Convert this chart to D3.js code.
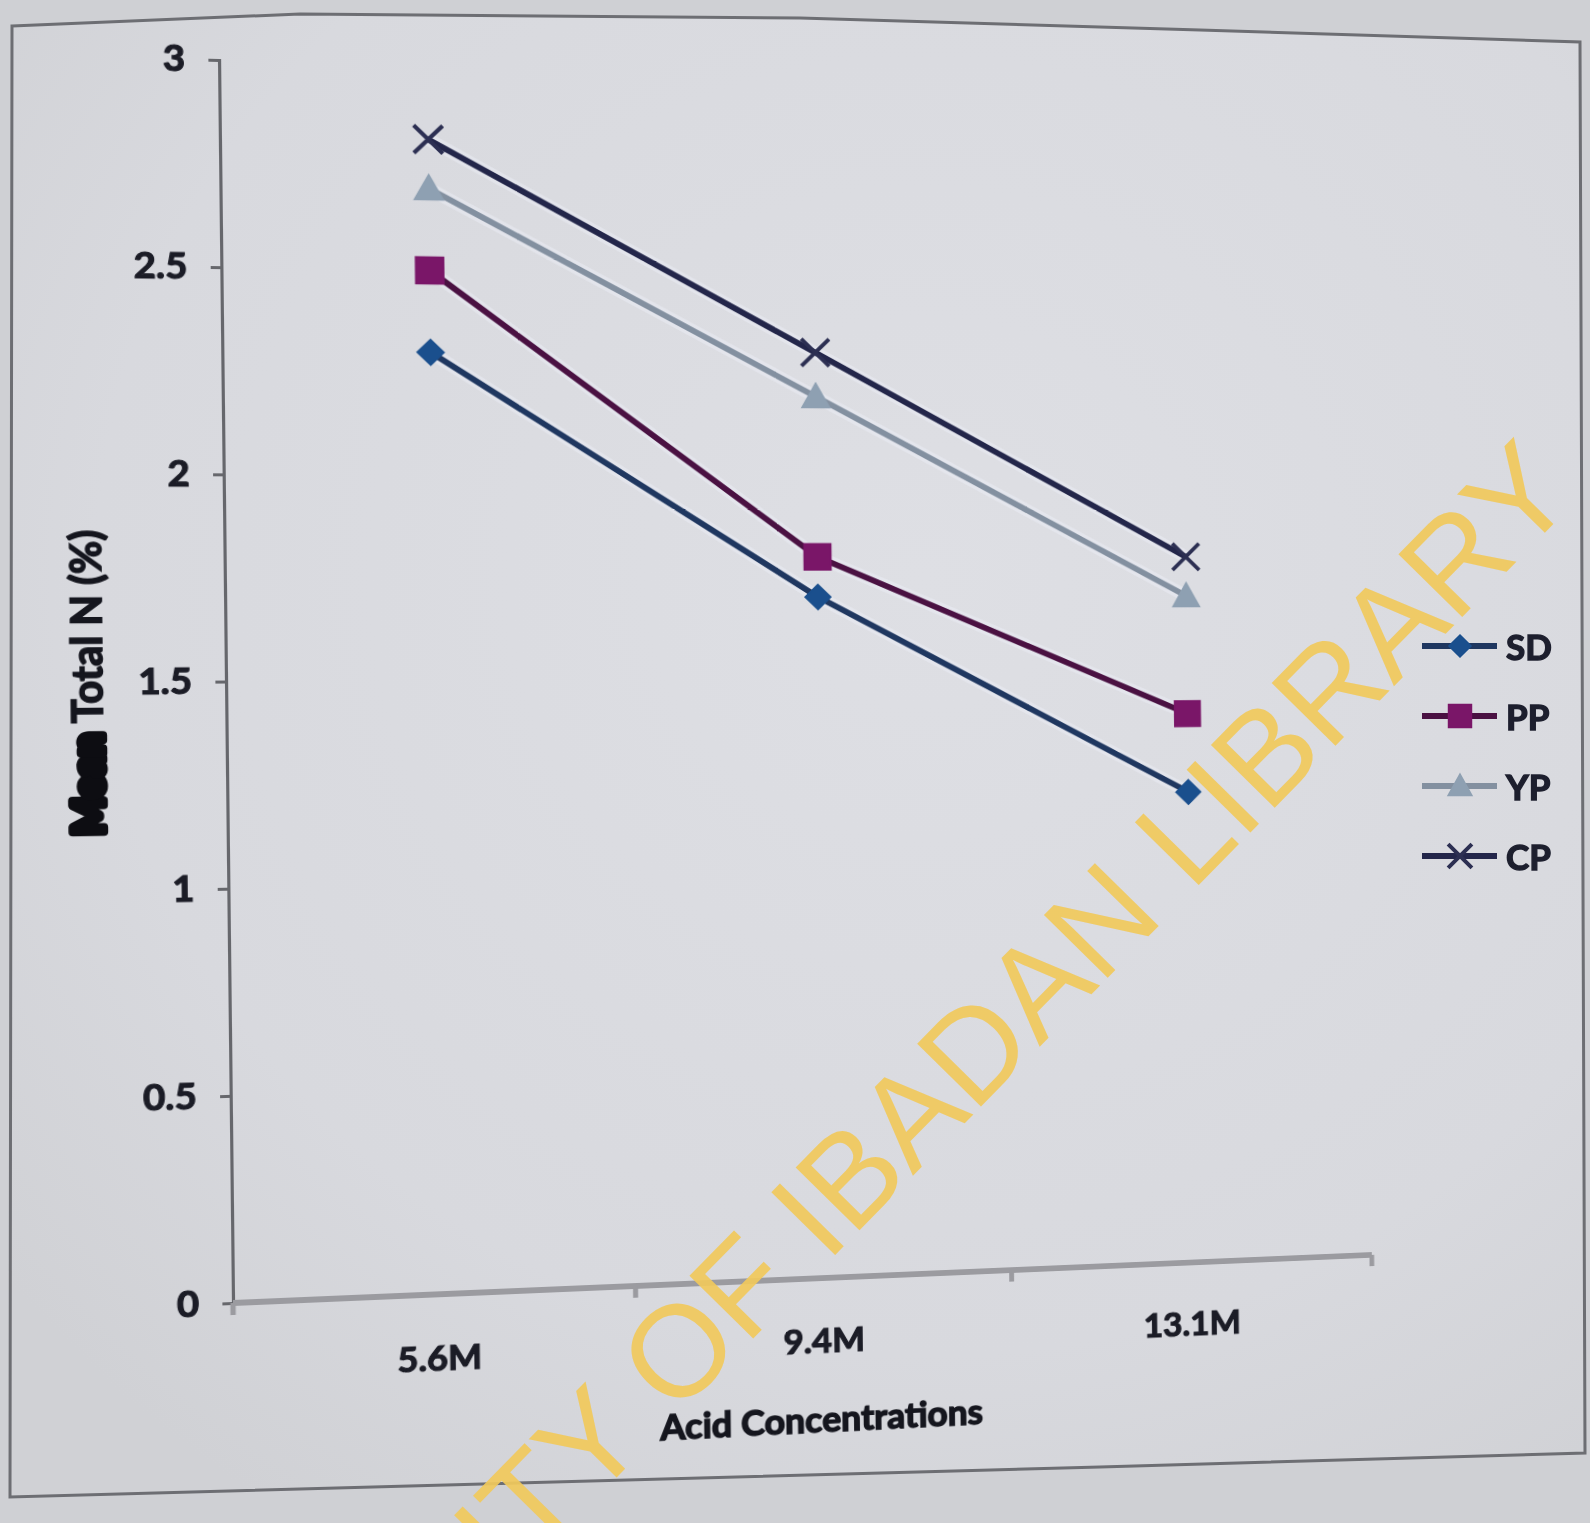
<!DOCTYPE html>
<html>
<head>
<meta charset="utf-8">
<script src="https://cdn.jsdelivr.net/npm/d3@7"></script>
<style>
  html, body { margin: 0; padding: 0; }
  body { width: 1590px; height: 1523px; overflow: hidden; position: relative; background: #d3d4d9; }
  svg { position: absolute; left: 0; top: 0; }
  #chart { transform-origin: 0 0; }
</style>
</head>
<body>
<svg id="paper" width="1590" height="1523"></svg>
<svg id="chart" width="1590" height="1523"></svg>
<svg id="overlay" width="1590" height="1523"></svg>
<script>
// ---- data ----
const categories = ["5.6M", "9.4M", "13.1M"];
const seriesNames = ["SD", "PP", "YP", "CP"];
const sdValues = [2.3, 1.7, 1.2];
const ppValues = [2.5, 1.8, 1.4];
const ypValues = [2.7, 2.2, 1.7];
const cpValues = [2.82, 2.31, 1.8];
const yTickValues = [0, 0.5, 1, 1.5, 2, 2.5, 3];
const yTickLabels = ["0", "0.5", "1", "1.5", "2", "2.5", "3"];
const xTitle = "Acid Concentrations";
const yTitle = "Mean Total N (%)";
const watermark = "UNIVERSITY OF IBADAN LIBRARY";

const seriesValues = { SD: sdValues, PP: ppValues, YP: ypValues, CP: cpValues };

// ---- styles ----
const style = {
  SD: { line: "#1f3760", marker: "#1a4f8d", shape: "diamond" },
  PP: { line: "#4a1142", marker: "#7a1668", shape: "square" },
  YP: { line: "#8390a0", marker: "#8ea0b2", shape: "triangle" },
  CP: { line: "#23264a", marker: "#2c2f52", shape: "star" }
};
const FONT = "Lato, 'Open Sans', 'DejaVu Sans', sans-serif";
const INK = "#1b1c26";

// ---- paper background and frame ----
const paper = d3.select("#paper");
const defs = paper.append("defs");
const rg = defs.append("radialGradient").attr("id", "sheet")
  .attr("cx", "58%").attr("cy", "38%").attr("r", "75%");
rg.append("stop").attr("offset", "0%").attr("stop-color", "#dedfe4");
rg.append("stop").attr("offset", "70%").attr("stop-color", "#d8d9de");
rg.append("stop").attr("offset", "100%").attr("stop-color", "#d0d1d5");
paper.append("rect").attr("width", 1590).attr("height", 1523).attr("fill", "#cfd0d4");

const framePts = [[12, 26], [300, 14], [800, 18], [1200, 30], [1580, 42], [1585, 1453], [1100, 1467], [10, 1497]];
paper.append("path")
  .attr("d", d3.line().curve(d3.curveLinearClosed)(framePts))
  .attr("fill", "url(#sheet)")
  .attr("stroke", "#6d6e73").attr("stroke-width", 3);

// ---- flat chart geometry ----
const plot = { left: 225, right: 1369, top: 61, bottom: 1303 };
// category bands sit slightly right of the value axis, as on the printed sheet
const x = d3.scaleBand().domain(categories).range([plot.left + 9, plot.right + 3]);
const xc = c => x(c) + x.bandwidth() / 2;
const y = d3.scaleLinear().domain([0, 3]).range([plot.bottom, plot.top]);

const chart = d3.select("#chart");

// y axis
const yAxis = d3.axisLeft(y)
  .tickValues(yTickValues)
  .tickFormat((d, i) => yTickLabels[i])
  .tickSize(10).tickSizeOuter(10).tickPadding(22);
const gy = chart.append("g").attr("transform", `translate(${plot.left},0)`).call(yAxis);
gy.select(".domain").attr("stroke", "#66676c").attr("stroke-width", 3);
gy.selectAll(".tick line").attr("stroke", "#66676c").attr("stroke-width", 3);
gy.selectAll(".tick text")
  .attr("font-family", FONT).attr("font-weight", 700).attr("font-size", 36)
  .attr("fill", INK).attr("stroke", INK).attr("stroke-width", 1.2);

// x axis
const gx = chart.append("g").attr("transform", `translate(0,${plot.bottom})`);
gx.append("line").attr("x1", plot.left).attr("x2", x.range()[1])
  .attr("stroke", "#9b9ba0").attr("stroke-width", 6);
const boundaries = [plot.left].concat(categories.slice(1).map(c => x(c)), [x.range()[1]]);
gx.selectAll("line.tk").data(boundaries).join("line").attr("class", "tk")
  .attr("x1", d => d).attr("x2", d => d).attr("y1", 0).attr("y2", 12)
  .attr("stroke", "#9b9ba0").attr("stroke-width", 5);
gx.selectAll("text").data(categories).join("text")
  .attr("x", d => xc(d) - 2).attr("y", 64)
  .attr("text-anchor", "middle").attr("dominant-baseline", "central")
  .attr("font-family", FONT).attr("font-weight", 700).attr("font-size", 35)
  .attr("fill", INK).attr("stroke", INK).attr("stroke-width", 1.2)
  .text(d => d);

// axis titles
chart.append("text")
  .attr("x", (plot.left + plot.right) / 2 + 2).attr("y", plot.bottom + 145)
  .attr("text-anchor", "middle").attr("dominant-baseline", "central")
  .attr("font-family", FONT).attr("font-weight", 700).attr("font-size", 36)
  .attr("fill", "#15161e").attr("stroke", "#15161e").attr("stroke-width", 1.5)
  .text(xTitle);

const yt = chart.append("text")
  .attr("transform", `translate(93,${(plot.top + plot.bottom) / 2}) rotate(-90)`)
  .attr("text-anchor", "middle").attr("dominant-baseline", "central")
  .attr("font-family", FONT).attr("font-weight", 700).attr("font-size", 40)
  .attr("fill", "#15161e").attr("stroke", "#15161e").attr("stroke-width", 1.5);
const yWords = yTitle.split(" ");
yt.append("tspan").attr("stroke", "#0d0d12").attr("stroke-width", 8).attr("stroke-linejoin", "round")
  .text(yWords[0] + " ");
yt.append("tspan").text(yWords.slice(1).join(" "));

// ---- series ----
function markerPath(shape, s) {
  const h = s / 2;
  if (shape === "diamond") return `M0,${-h}L${h},0L0,${h}L${-h},0Z`;
  if (shape === "square") return `M${-h},${-h}H${h}V${h}H${-h}Z`;
  if (shape === "triangle") return `M0,${-h}L${h},${h * 0.8}L${-h},${h * 0.8}Z`;
  return `M${-h},${-h}L${h},${h}M${-h},${h}L${h},${-h}`;
}
const markerSize = { diamond: 26, square: 27, triangle: 28, star: 28 };

const line = d3.line().x(d => xc(d.cat)).y(d => y(d.v));
const series = seriesNames.map(name => ({
  name,
  points: categories.map((cat, i) => ({ cat, v: seriesValues[name][i] }))
}));

const gs = chart.selectAll("g.series").data(series).join("g").attr("class", "series");
gs.append("path")
  .attr("d", d => line(d.points))
  .attr("fill", "none").attr("stroke", "#eef0f8").attr("stroke-opacity", 0.45)
  .attr("stroke-width", 13).attr("stroke-linejoin", "round");
gs.append("path")
  .attr("d", d => line(d.points))
  .attr("fill", "none").attr("stroke", d => style[d.name].line)
  .attr("stroke-width", 6).attr("stroke-linejoin", "round");
gs.selectAll("path.mk").data(d => d.points.map(p => ({ ...p, name: d.name }))).join("path")
  .attr("class", "mk")
  .attr("transform", d => `translate(${xc(d.cat)},${y(d.v)})`)
  .attr("d", d => markerPath(style[d.name].shape, markerSize[style[d.name].shape]))
  .attr("fill", d => style[d.name].shape === "star" ? "none" : style[d.name].marker)
  .attr("stroke", d => style[d.name].marker)
  .attr("stroke-width", d => style[d.name].shape === "star" ? 4 : 1.5);

// ---- perspective of the photographed sheet ----
function homography(src, dst) {
  const A = [], b = [];
  for (let i = 0; i < 4; i++) {
    const [sx, sy] = src[i], [dx, dy] = dst[i];
    A.push([sx, sy, 1, 0, 0, 0, -sx * dx, -sy * dx]); b.push(dx);
    A.push([0, 0, 0, sx, sy, 1, -sx * dy, -sy * dy]); b.push(dy);
  }
  const n = 8;
  for (let c = 0; c < n; c++) {
    let p = c;
    for (let r = c + 1; r < n; r++) if (Math.abs(A[r][c]) > Math.abs(A[p][c])) p = r;
    [A[c], A[p]] = [A[p], A[c]]; [b[c], b[p]] = [b[p], b[c]];
    for (let r = 0; r < n; r++) {
      if (r === c) continue;
      const f = A[r][c] / A[c][c];
      for (let k = c; k < n; k++) A[r][k] -= f * A[c][k];
      b[r] -= f * b[c];
    }
  }
  return b.map((v, i) => v / A[i][i]);
}
const h = homography(
  [[plot.left, plot.bottom], [plot.left, plot.top], [plot.right, plot.bottom], [plot.right, plot.top]],
  [[233, 1303], [219, 60], [1369, 1255], [1356, 91]]
);
d3.select("#chart").style("transform",
  `matrix3d(${h[0]},${h[3]},0,${h[6]},${h[1]},${h[4]},0,${h[7]},0,0,1,0,${h[2]},${h[5]},0,1)`);

// ---- legend ----
const overlay = d3.select("#overlay");
const ly = d3.scalePoint().domain(seriesNames).range([646, 856]);
const lg = overlay.selectAll("g.legend").data(seriesNames).join("g").attr("class", "legend")
  .attr("transform", d => `translate(1422,${ly(d)})`);
lg.append("line").attr("x1", 0).attr("x2", 75)
  .attr("stroke", d => style[d].line).attr("stroke-width", 6);
lg.append("path")
  .attr("transform", "translate(38,0)")
  .attr("d", d => markerPath(style[d].shape, markerSize[style[d].shape] * 0.85))
  .attr("fill", d => style[d].shape === "star" ? "none" : style[d].marker)
  .attr("stroke", d => style[d].marker)
  .attr("stroke-width", d => style[d].shape === "star" ? 4 : 1.5);
lg.append("text").attr("x", 84).attr("dominant-baseline", "central")
  .attr("font-family", FONT).attr("font-weight", 700).attr("font-size", 35)
  .attr("fill", "#1d1f2e").attr("stroke", "#1d1f2e").attr("stroke-width", 1.4)
  .text(d => d);

// ---- library watermark ----
overlay.append("text")
  .attr("transform", "translate(842,1248) rotate(-45.5)")
  .attr("text-anchor", "middle")
  .attr("font-family", "'Liberation Sans', Arial, sans-serif").attr("font-size", 130)
  .attr("fill", "#f1c95b").attr("fill-opacity", 0.92)
  .text(watermark);
</script>
</body>
</html>
